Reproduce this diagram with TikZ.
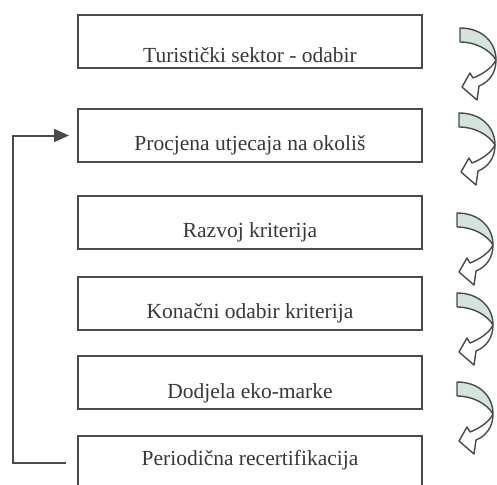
\documentclass[tikz,border=0pt]{standalone}
\usepackage{fontspec}
\setmainfont{Liberation Serif}
\usetikzlibrary{arrows.meta}
\definecolor{ink}{HTML}{4A4A4A}
\definecolor{txt}{HTML}{383838}
\definecolor{ribbon}{HTML}{D3E4DA}
\tikzset{
 stepbox/.style={draw=ink, line width=2pt, minimum width=344pt, minimum height=53pt, inner sep=0pt, anchor=north west},
 boxtext/.style={anchor=base, text=txt, inner sep=0pt, font=\fontsize{21.5}{25}\selectfont},
 fb/.style={draw=ink, line width=2pt, -{Triangle[length=15pt,width=13pt]}},
 rib/.style={draw=ink, line width=1.4pt, line join=round}
}
\newcommand\curlyarrow[2]{%
\begin{scope}[shift={(#1,#2)}]
 \filldraw[rib, fill=white] (36,32) .. controls (36,45) and (29,54) .. (19,58) -- (17,72) -- (2,59) -- (10,45) -- (13,50) .. controls (23,46) and (32,40) .. (36,32) -- cycle;
 \filldraw[rib, fill=ribbon] (0,0) .. controls (22,0) and (36,14) .. (36,32) .. controls (30,22) and (16,14) .. (0,14) -- cycle;
\end{scope}}
\begin{document}
\begin{tikzpicture}[x=1pt,y=-1pt]
\useasboundingbox (0,0) rectangle (497,484);
\clip (0,0) rectangle (497,484);
\fill[white] (0,0) rectangle (497,484);
\node[stepbox] (b1) at (77,14) {};
\node[stepbox] (b2) at (77,108) {};
\node[stepbox] (b3) at (77,195) {};
\node[stepbox] (b4) at (77,276) {};
\node[stepbox] (b5) at (77,355) {};
\node[stepbox] (b6) at (77,435) {};
\node[boxtext] (t1) at (b1.center |- 0,63) {Turistički sektor - odabir};
\node[boxtext] (t2) at (b2.center |- 0,150) {Procjena utjecaja na okoliš};
\node[boxtext] (t3) at (b3.center |- 0,237) {Razvoj kriterija};
\node[boxtext] (t4) at (b4.center |- 0,318) {Konačni odabir kriterija};
\node[boxtext] (t5) at (b5.center |- 0,398) {Dodjela eko-marke};
\node[boxtext] (t6) at (b6.center |- 0,465) {Periodična recertifikacija};
\draw[fb] ([xshift=-11pt]b6.west) -- ++(-53,0) |- ([xshift=-8pt]b2.west);
\curlyarrow{460}{28}
\curlyarrow{459}{113}
\curlyarrow{457}{213}
\curlyarrow{457}{293}
\curlyarrow{457}{382}
\end{tikzpicture}
\end{document}
